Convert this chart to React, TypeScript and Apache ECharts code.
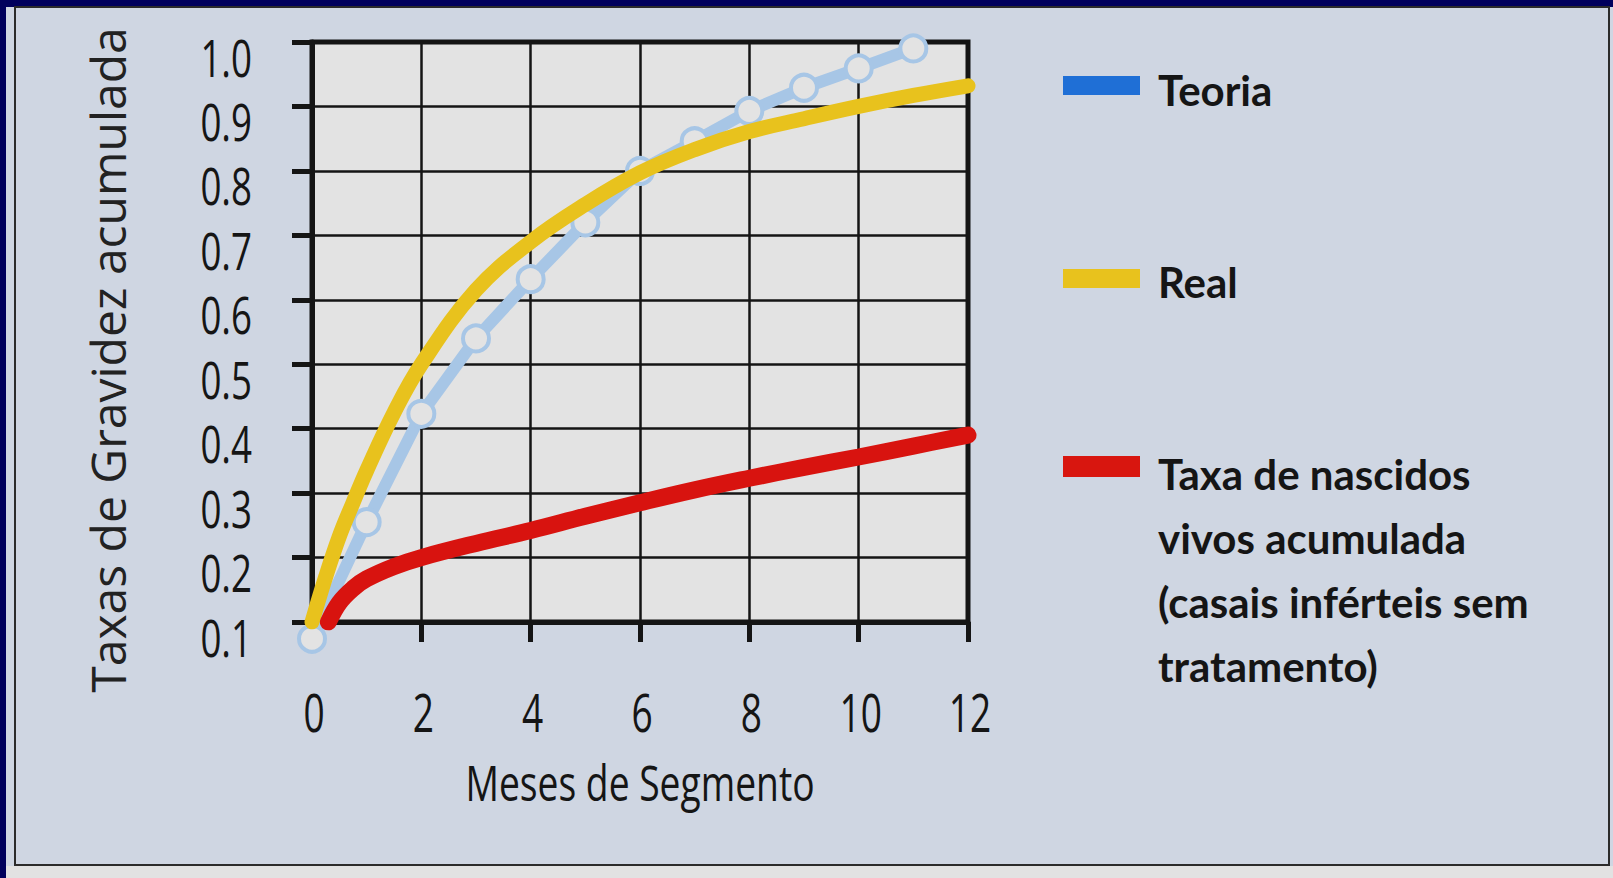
import React, { useEffect, useRef } from "react";
import * as echarts from "echarts";

// ---- data ----
const monthTicks = [0, 2, 4, 6, 8, 10, 12];
const rateTicks = [0.1, 0.2, 0.3, 0.4, 0.5, 0.6, 0.7, 0.8, 0.9, 1.0];

const teoriaMonths = [0, 1, 2, 3, 4, 5, 6, 7, 8, 9, 10, 11];
const teoriaValues = [0.074, 0.255, 0.423, 0.54, 0.632, 0.72, 0.8, 0.846, 0.893, 0.929, 0.959, 0.99];

const realMonths = [0, 0.25, 0.5, 0.75, 1, 1.5, 2, 3, 4, 5, 6, 7, 8, 9, 10, 11, 12];
const realValues = [0.1, 0.17, 0.233, 0.285, 0.335, 0.425, 0.5, 0.615, 0.69, 0.748, 0.797, 0.833, 0.861, 0.881, 0.9, 0.917, 0.932];

const nascidosMonths = [0.3, 0.5, 0.75, 1, 1.5, 2, 3, 4, 5, 6, 7, 8, 9, 10, 11, 12];
const nascidosValues = [0.1, 0.13, 0.152, 0.167, 0.186, 0.2, 0.222, 0.242, 0.264, 0.285, 0.305, 0.323, 0.34, 0.356, 0.373, 0.39];

const seriesNames = ["Teoria", "Real", "Taxa de nascidos\nvivos acumulada\n(casais inférteis sem\ntratamento)"];
const xAxisTitle = "Meses de Segmento";
const yAxisTitle = "Taxas de Gravidez acumulada";

const THIN = '"Open Sans", Lato, sans-serif';

const zip = (xs: number[], ys: number[]) => xs.map((x, i) => [x, ys[i]]);

export default function App() {
  const ref = useRef<HTMLDivElement>(null);

  useEffect(() => {
    if (!ref.current) return;
    const chart = echarts.init(ref.current, null, { renderer: "svg" });

    const blueLine = "#a7c6e6";
    const yellow = "#e8c21d";
    const red = "#d8130f";
    const ink = "#151515";

    const legendColors = ["#1f6fd6", "#e8c21d", "#d8160f"];
    const legendRectY = [76, 269, 456];
    const legendTextY = [90, 282, 442];

    const graphic: any[] = [
      { type: "rect", shape: { x: 0, y: 0, width: 1613, height: 7 }, style: { fill: "#00005c" }, silent: true },
      { type: "rect", shape: { x: 0, y: 0, width: 6, height: 878 }, style: { fill: "#00005c" }, silent: true },
      { type: "rect", shape: { x: 6, y: 866, width: 1607, height: 12 }, style: { fill: "#e2e2e2" }, silent: true },
      {
        type: "rect",
        shape: { x: 15, y: 7, width: 1594, height: 858 },
        style: { fill: "none", stroke: "#2b2b2b", lineWidth: 2 },
        silent: true,
      },
    ];
    seriesNames.forEach((name, i) => {
      graphic.push({
        type: "rect",
        shape: { x: 1063, y: legendRectY[i], width: 77, height: i === 2 ? 21 : 19 },
        style: { fill: legendColors[i] },
        silent: true,
      });
      graphic.push({
        type: "text",
        x: 1158,
        y: legendTextY[i],
        style: {
          text: name,
          fill: ink,
          font: 'bold 42px Lato, "Open Sans", sans-serif',
          lineHeight: 64,
          verticalAlign: i === 2 ? "top" : "middle",
          align: "left",
        },
        silent: true,
      });
    });

    chart.setOption({
      animation: false,
      backgroundColor: "#cfd6e2",
      grid: {
        left: 312,
        right: 645,
        top: 42,
        bottom: 256,
        show: true,
        backgroundColor: "#e3e3e3",
        borderColor: ink,
        borderWidth: 5,
        containLabel: false,
        outerBoundsMode: "none",
      },
      xAxis: {
        type: "value",
        min: monthTicks[0],
        max: monthTicks[monthTicks.length - 1],
        interval: monthTicks[1] - monthTicks[0],
        axisLine: { show: true, lineStyle: { color: ink, width: 5 } },
        axisTick: { show: true, length: 20, lineStyle: { color: ink, width: 5 } },
        axisLabel: { show: false },
        splitLine: { show: true, lineStyle: { color: ink, width: 2.5 } },
      },
      yAxis: {
        type: "value",
        min: rateTicks[0],
        max: rateTicks[rateTicks.length - 1],
        interval: 0.1,
        axisLine: { show: true, lineStyle: { color: ink, width: 5 } },
        axisTick: { show: true, length: 20, lineStyle: { color: ink, width: 5 } },
        axisLabel: { show: false },
        splitLine: { show: true, lineStyle: { color: ink, width: 2.5 } },
      },
      series: [
        {
          name: "Teoria",
          type: "line",
          data: zip(teoriaMonths, teoriaValues),
          clip: false,
          z: 2,
          symbol: "circle",
          symbolSize: 26,
          showAllSymbol: true,
          lineStyle: { color: blueLine, width: 12 },
          itemStyle: { color: "#e3e3e3", borderColor: blueLine, borderWidth: 4 },
          emphasis: { disabled: true },
          silent: true,
        },
        {
          name: "Real",
          type: "line",
          data: zip(realMonths, realValues),
          smooth: 0.4,
          symbol: "none",
          z: 3,
          lineStyle: { color: yellow, width: 15, cap: "round" },
          emphasis: { disabled: true },
          silent: true,
        },
        {
          name: "Taxa de nascidos vivos acumulada",
          type: "line",
          data: zip(nascidosMonths, nascidosValues),
          smooth: 0.4,
          symbol: "none",
          z: 4,
          lineStyle: { color: red, width: 17, cap: "round" },
          emphasis: { disabled: true },
          silent: true,
        },
      ],
    });

    // Tick labels and axis titles placed from the library's own scales
    const toPx = (x: number, y: number) => chart.convertToPixel({ gridIndex: 0 }, [x, y]) as number[];
    const [axisX, axisBottom] = toPx(monthTicks[0], rateTicks[0]);
    const [axisRight, axisTop] = toPx(monthTicks[monthTicks.length - 1], rateTicks[rateTicks.length - 1]);

    rateTicks.forEach((v) => {
      const [, py] = toPx(monthTicks[0], v);
      graphic.push({
        type: "text",
        x: axisX - 60,
        y: py + 15,
        scaleX: 0.72,
        style: {
          text: v.toFixed(1),
          fill: ink,
          font: `400 51px ${THIN}`,
          align: "right",
          verticalAlign: "middle",
        },
        silent: true,
      });
    });
    monthTicks.forEach((m) => {
      const [pxx] = toPx(m, rateTicks[0]);
      graphic.push({
        type: "text",
        x: pxx + 2,
        y: axisBottom + 89,
        scaleX: 0.7,
        style: {
          text: String(m),
          fill: ink,
          font: `400 53px ${THIN}`,
          align: "center",
          verticalAlign: "middle",
        },
        silent: true,
      });
    });
    graphic.push({
      type: "text",
      x: (axisX + axisRight) / 2,
      y: axisBottom + 160,
      scaleX: 0.76,
      style: {
        text: xAxisTitle,
        fill: ink,
        font: `400 49px ${THIN}`,
        align: "center",
        verticalAlign: "middle",
      },
      silent: true,
    });
    graphic.push({
      type: "text",
      x: axisX - 205,
      y: (axisTop + axisBottom) / 2 + 28,
      rotation: Math.PI / 2,
      style: {
        text: yAxisTitle,
        fill: "#222",
        font: `48px ${THIN}`,
        align: "center",
        verticalAlign: "middle",
      },
      silent: true,
    });

    chart.setOption({ graphic });

    return () => chart.dispose();
  }, []);

  return (
    <div
      ref={ref}
      style={{ position: "fixed", left: 0, top: 0, width: 1613, height: 878 }}
    />
  );
}
